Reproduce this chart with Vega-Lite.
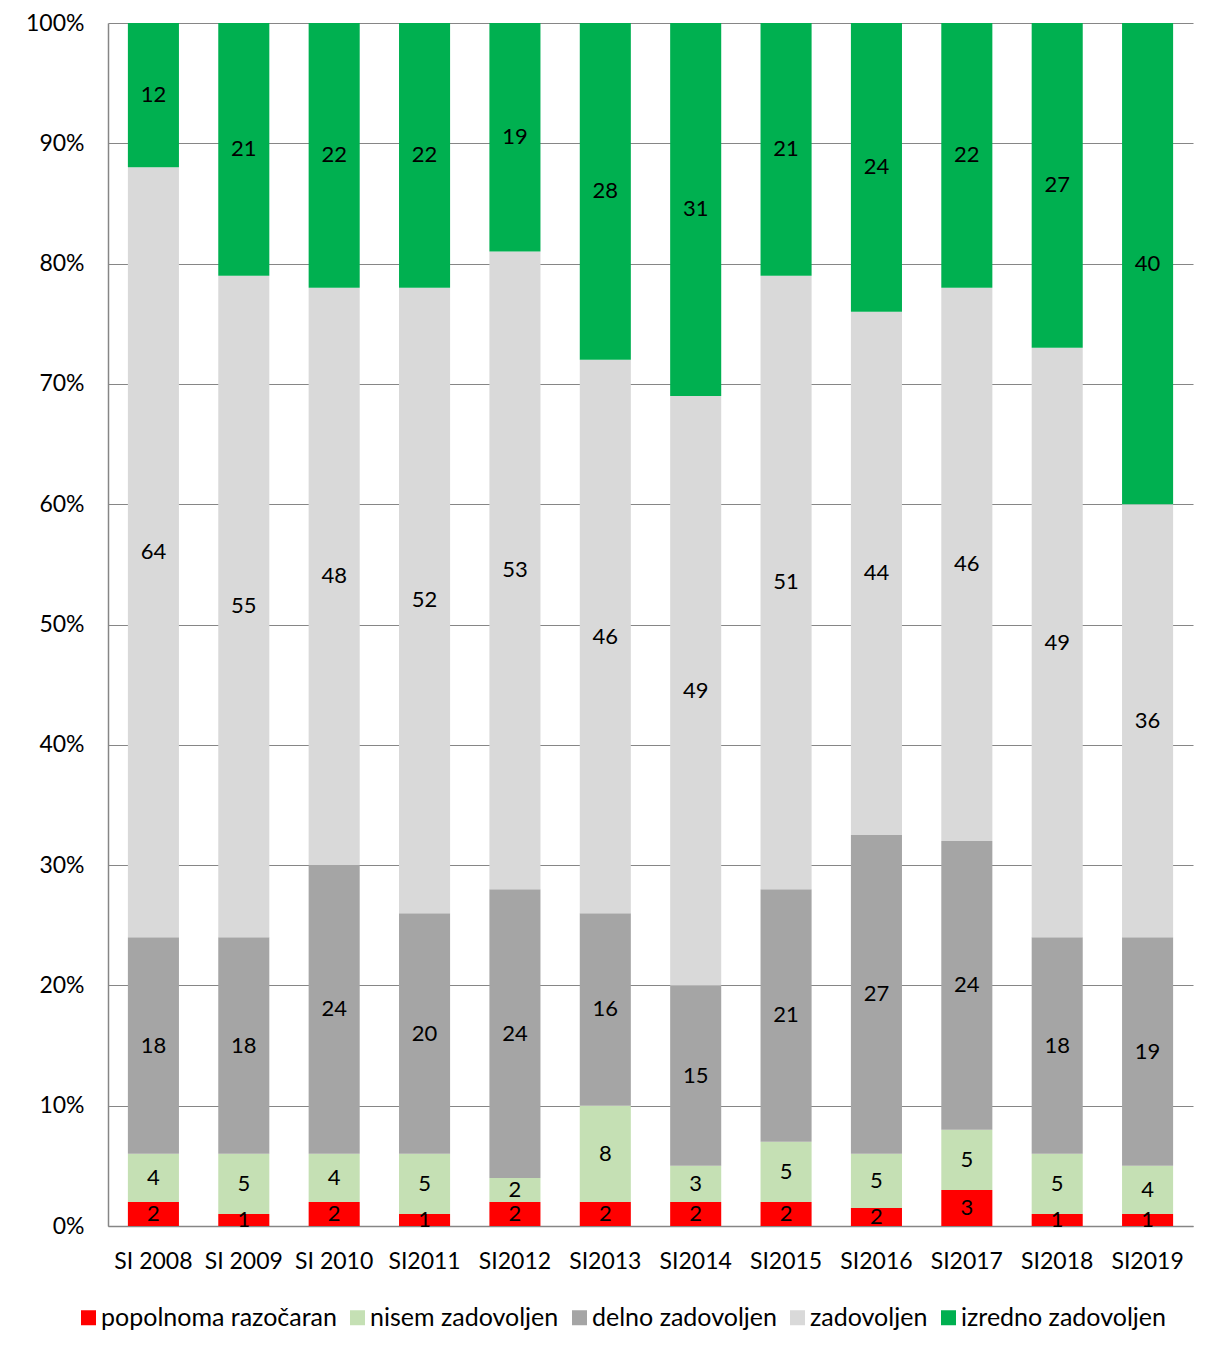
{
  "$schema": "https://vega.github.io/schema/vega-lite/v6.json",
  "width": 1085,
  "height": 1203,
  "autosize": {"type": "none"},
  "padding": {"left": 108, "top": 23, "right": 12, "bottom": 127},
  "background": "white",
  "config": {"font": "Lato", "view": {"stroke": null}},
  "datasets": {
    "series": [
      {"series": "popolnoma razočaran", "rank": 0},
      {"series": "nisem zadovoljen", "rank": 1},
      {"series": "delno zadovoljen", "rank": 2},
      {"series": "zadovoljen", "rank": 3},
      {"series": "izredno zadovoljen", "rank": 4}
    ],
    "survey": [
      {"year": "SI 2008", "series": "popolnoma razočaran", "value": 2},
      {"year": "SI 2008", "series": "nisem zadovoljen", "value": 4},
      {"year": "SI 2008", "series": "delno zadovoljen", "value": 18},
      {"year": "SI 2008", "series": "zadovoljen", "value": 64},
      {"year": "SI 2008", "series": "izredno zadovoljen", "value": 12},
      {"year": "SI 2009", "series": "popolnoma razočaran", "value": 1},
      {"year": "SI 2009", "series": "nisem zadovoljen", "value": 5},
      {"year": "SI 2009", "series": "delno zadovoljen", "value": 18},
      {"year": "SI 2009", "series": "zadovoljen", "value": 55},
      {"year": "SI 2009", "series": "izredno zadovoljen", "value": 21},
      {"year": "SI 2010", "series": "popolnoma razočaran", "value": 2},
      {"year": "SI 2010", "series": "nisem zadovoljen", "value": 4},
      {"year": "SI 2010", "series": "delno zadovoljen", "value": 24},
      {"year": "SI 2010", "series": "zadovoljen", "value": 48},
      {"year": "SI 2010", "series": "izredno zadovoljen", "value": 22},
      {"year": "SI2011", "series": "popolnoma razočaran", "value": 1},
      {"year": "SI2011", "series": "nisem zadovoljen", "value": 5},
      {"year": "SI2011", "series": "delno zadovoljen", "value": 20},
      {"year": "SI2011", "series": "zadovoljen", "value": 52},
      {"year": "SI2011", "series": "izredno zadovoljen", "value": 22},
      {"year": "SI2012", "series": "popolnoma razočaran", "value": 2},
      {"year": "SI2012", "series": "nisem zadovoljen", "value": 2},
      {"year": "SI2012", "series": "delno zadovoljen", "value": 24},
      {"year": "SI2012", "series": "zadovoljen", "value": 53},
      {"year": "SI2012", "series": "izredno zadovoljen", "value": 19},
      {"year": "SI2013", "series": "popolnoma razočaran", "value": 2},
      {"year": "SI2013", "series": "nisem zadovoljen", "value": 8},
      {"year": "SI2013", "series": "delno zadovoljen", "value": 16},
      {"year": "SI2013", "series": "zadovoljen", "value": 46},
      {"year": "SI2013", "series": "izredno zadovoljen", "value": 28},
      {"year": "SI2014", "series": "popolnoma razočaran", "value": 2},
      {"year": "SI2014", "series": "nisem zadovoljen", "value": 3},
      {"year": "SI2014", "series": "delno zadovoljen", "value": 15},
      {"year": "SI2014", "series": "zadovoljen", "value": 49},
      {"year": "SI2014", "series": "izredno zadovoljen", "value": 31},
      {"year": "SI2015", "series": "popolnoma razočaran", "value": 2},
      {"year": "SI2015", "series": "nisem zadovoljen", "value": 5},
      {"year": "SI2015", "series": "delno zadovoljen", "value": 21},
      {"year": "SI2015", "series": "zadovoljen", "value": 51},
      {"year": "SI2015", "series": "izredno zadovoljen", "value": 21},
      {"year": "SI2016", "series": "popolnoma razočaran", "value": 1.5},
      {"year": "SI2016", "series": "nisem zadovoljen", "value": 4.5},
      {"year": "SI2016", "series": "delno zadovoljen", "value": 26.5},
      {"year": "SI2016", "series": "zadovoljen", "value": 43.5},
      {"year": "SI2016", "series": "izredno zadovoljen", "value": 24},
      {"year": "SI2017", "series": "popolnoma razočaran", "value": 3},
      {"year": "SI2017", "series": "nisem zadovoljen", "value": 5},
      {"year": "SI2017", "series": "delno zadovoljen", "value": 24},
      {"year": "SI2017", "series": "zadovoljen", "value": 46},
      {"year": "SI2017", "series": "izredno zadovoljen", "value": 22},
      {"year": "SI2018", "series": "popolnoma razočaran", "value": 1},
      {"year": "SI2018", "series": "nisem zadovoljen", "value": 5},
      {"year": "SI2018", "series": "delno zadovoljen", "value": 18},
      {"year": "SI2018", "series": "zadovoljen", "value": 49},
      {"year": "SI2018", "series": "izredno zadovoljen", "value": 27},
      {"year": "SI2019", "series": "popolnoma razočaran", "value": 1},
      {"year": "SI2019", "series": "nisem zadovoljen", "value": 4},
      {"year": "SI2019", "series": "delno zadovoljen", "value": 19},
      {"year": "SI2019", "series": "zadovoljen", "value": 36},
      {"year": "SI2019", "series": "izredno zadovoljen", "value": 40}
    ]
  },
  "data": {"name": "survey"},
  "transform": [
    {"lookup": "series", "from": {"data": {"name": "series"}, "key": "series", "fields": ["rank"]}},
    {"stack": "value", "groupby": ["year"], "sort": [{"field": "rank", "order": "ascending"}], "offset": "normalize", "as": ["y0", "y1"]},
    {"calculate": "(datum.y0 + datum.y1) / 2", "as": "ymid"}
  ],
  "encoding": {
    "x": {
      "field": "year",
      "type": "nominal",
      "sort": null,
      "title": null,
      "scale": {"paddingInner": 0.435, "paddingOuter": 0.22},
      "axis": {
        "labelAngle": 0,
        "labelFontSize": 23,
        "labelColor": "#000000",
        "labelPadding": 24,
        "ticks": false,
        "domainColor": "#868686",
        "domainWidth": 1.5
      }
    }
  },
  "layer": [
    {
      "mark": {"type": "bar"},
      "encoding": {
        "y": {
          "field": "y1",
          "type": "quantitative",
          "title": null,
          "scale": {"domain": [0, 1], "nice": false},
          "axis": {
            "format": ".0%",
            "values": [0, 0.1, 0.2, 0.3, 0.4, 0.5, 0.6, 0.7, 0.8, 0.9, 1],
            "grid": true,
            "gridColor": "#868686",
            "gridWidth": 1.2,
            "domainColor": "#868686",
            "domainWidth": 1.5,
            "ticks": false,
            "labelFontSize": 23,
            "labelColor": "#000000",
            "labelPadding": 24
          }
        },
        "y2": {"field": "y0"},
        "color": {
          "field": "series",
          "type": "nominal",
          "scale": {
            "domain": ["popolnoma razočaran", "nisem zadovoljen", "delno zadovoljen", "zadovoljen", "izredno zadovoljen"],
            "range": ["#FF0000", "#C5E0B4", "#A5A5A5", "#D9D9D9", "#00B050"]
          },
          "legend": {
            "title": null,
            "orient": "none",
            "legendX": -32,
            "legendY": 1282,
            "direction": "horizontal",
            "columns": 5,
            "symbolType": "square",
            "symbolSize": 225,
            "symbolStrokeWidth": 0,
            "labelFontSize": 25,
            "labelLimit": 0,
            "labelColor": "#000000",
            "labelOffset": 0,
            "columnPadding": 8
          }
        }
      }
    },
    {
      "mark": {"type": "text", "fontSize": 22, "color": "#000000", "align": "center", "baseline": "middle"},
      "encoding": {
        "y": {"field": "ymid", "type": "quantitative"},
        "text": {"field": "value", "type": "quantitative", "format": ".0f"}
      }
    }
  ]
}
